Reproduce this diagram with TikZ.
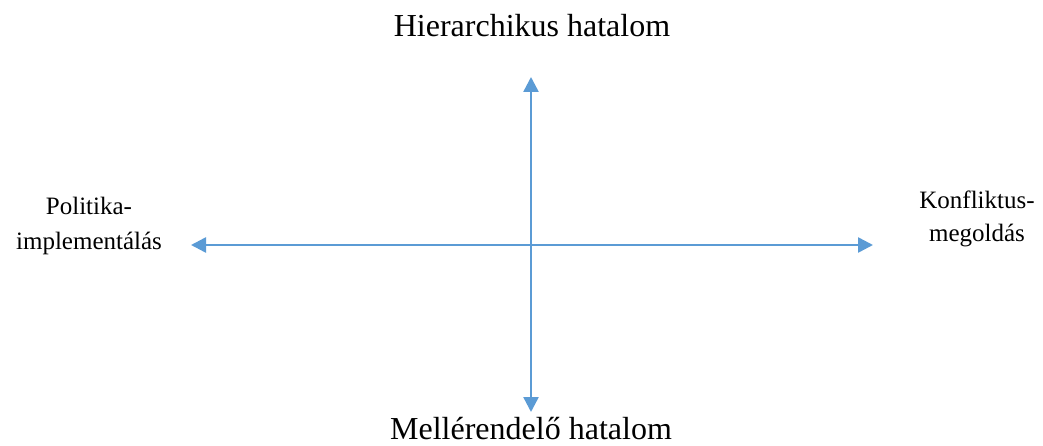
\documentclass[tikz,border=0pt]{standalone}
\usepackage{fontspec}
\setmainfont{Liberation Serif}
\usetikzlibrary{arrows.meta}
\definecolor{axisblue}{HTML}{5B9BD5}
\tikzset{
  axis/.style={draw=axisblue, line width=2.5pt, -{Triangle[length=15pt,width=15pt]}},
  bigtitle/.style={inner sep=0pt, anchor=base, font=\fontsize{32}{38}\selectfont},
  sidelabel/.style={inner sep=0pt, anchor=north, align=center, font=\fontsize{25}{30}\selectfont}
}
\begin{document}
\begin{tikzpicture}[x=1pt,y=1pt]
  \useasboundingbox (0,0) rectangle (1043,445);
  \coordinate (c) at (531,200);
  \coordinate (top) at (531,368);
  \coordinate (bot) at (531,33);
  \coordinate (lft) at (191,200);
  \coordinate (rgt) at (873,200);
  \draw[axis] (c) -- (top);
  \draw[axis] (c) -- (bot);
  \draw[axis] (c) -- (lft);
  \draw[axis] (c) -- (rgt);
  \node[bigtitle] (h) at (532,408) {Hierarchikus hatalom};
  \node[bigtitle] (m) at (531,6) {Mellérendelő hatalom};
  \node[sidelabel] (p) at (89,248) {Politika-\\[5pt]implementálás};
  \node[sidelabel] (k) at (977,254) {Konfliktus-\\[3pt]megoldás};
\end{tikzpicture}
\end{document}
